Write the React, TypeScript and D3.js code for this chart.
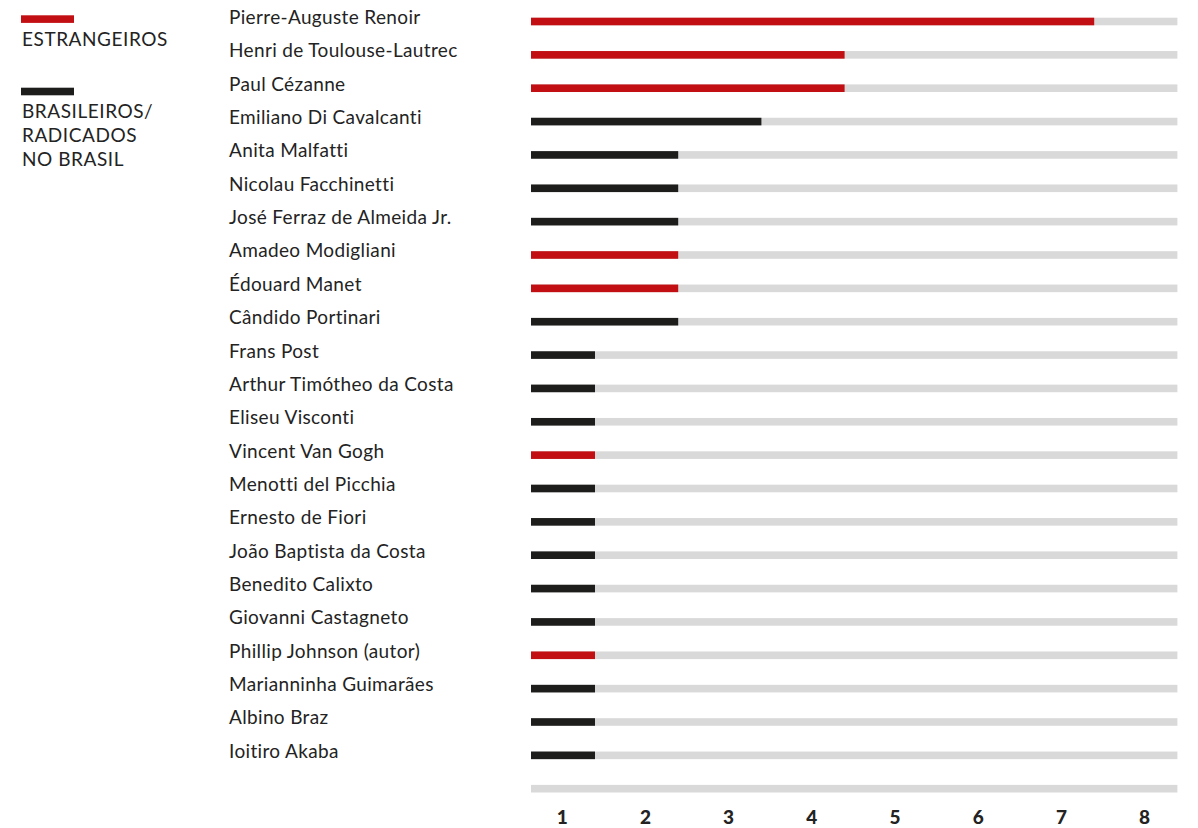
import React from "react";
import * as d3 from "d3";

// Artists and how many works of each appear in the collection
const artists: string[] = [
  "Pierre-Auguste Renoir",
  "Henri de Toulouse-Lautrec",
  "Paul Cézanne",
  "Emiliano Di Cavalcanti",
  "Anita Malfatti",
  "Nicolau Facchinetti",
  "José Ferraz de Almeida Jr.",
  "Amadeo Modigliani",
  "Édouard Manet",
  "Cândido Portinari",
  "Frans Post",
  "Arthur Timótheo da Costa",
  "Eliseu Visconti",
  "Vincent Van Gogh",
  "Menotti del Picchia",
  "Ernesto de Fiori",
  "João Baptista da Costa",
  "Benedito Calixto",
  "Giovanni Castagneto",
  "Phillip Johnson (autor)",
  "Marianninha Guimarães",
  "Albino Braz",
  "Ioitiro Akaba",
];

const counts: number[] = [7, 4, 4, 3, 2, 2, 2, 2, 2, 2, 1, 1, 1, 1, 1, 1, 1, 1, 1, 1, 1, 1, 1];

// "E" = estrangeiro, "B" = brasileiro / radicado no Brasil
const origin: string[] = [
  "E", "E", "E", "B", "B", "B", "B", "E", "E", "B",
  "B", "B", "B", "E", "B", "B", "B", "B", "B", "E",
  "B", "B", "B",
];

const tickValues: number[] = [1, 2, 3, 4, 5, 6, 7, 8];

const legendItems = [
  { key: "E", lines: ["ESTRANGEIROS"] },
  { key: "B", lines: ["BRASILEIROS/", "RADICADOS", "NO BRASIL"] },
];

const COLORS: Record<string, string> = { E: "#c20f13", B: "#1d1d1b" };
const TRACK = "#d9d9d9";
const TEXT = "#232323";
const FONT = "Lato, 'Noto Sans', sans-serif";

export default function App() {
  const width = 1198;
  const height = 828;

  const trackLeft = 531;
  const x = d3.scaleLinear().domain([0, 8]).range([511.8, 1177.4]);
  // one row per artist, plus an empty track row above the axis labels
  const y = d3.scaleLinear().domain([0, artists.length]).range([21.5, 788.7]);
  const barH = 7.6;
  const labelX = 229;
  const tickShift = -32.8;

  return (
    <div style={{ position: "absolute", left: 0, top: 0 }}>
      <svg width={width} height={height} style={{ display: "block", background: "#fff" }}>
        {/* legend */}
        <g>
          {legendItems.map((item, i) => {
            const top = i === 0 ? 15.3 : 87.7;
            return (
              <g key={item.key}>
                <rect x={21} y={top} width={53} height={barH} fill={COLORS[item.key]} />
                {item.lines.map((ln, j) => (
                  <text
                    key={ln}
                    x={22}
                    y={top + 30.7 + j * 24}
                    fontFamily={FONT}
                    fontSize={19}
                    letterSpacing={0.55}
                    fill={TEXT}
                  >
                    {ln}
                  </text>
                ))}
              </g>
            );
          })}
        </g>

        {/* rows */}
        <g>
          {artists.map((name, i) => {
            const cy = y(i);
            return (
              <g key={name}>
                <text
                  x={labelX}
                  y={cy + 2.5}
                  fontFamily={FONT}
                  fontSize={19}
                  letterSpacing={0.35}
                  fill={TEXT}
                >
                  {name}
                </text>
                <rect x={trackLeft} y={cy - barH / 2} width={x(8) - trackLeft} height={barH} fill={TRACK} />
                <rect
                  x={trackLeft}
                  y={cy - barH / 2}
                  width={x(counts[i]) - trackLeft}
                  height={barH}
                  fill={COLORS[origin[i]]}
                />
              </g>
            );
          })}
          {/* empty axis track */}
          <rect
            x={trackLeft}
            y={y(artists.length) - barH / 2}
            width={x(8) - trackLeft}
            height={barH}
            fill={TRACK}
          />
        </g>

        {/* axis labels */}
        <g>
          {tickValues.map((t) => (
            <text
              key={t}
              x={x(t) + tickShift}
              y={824}
              textAnchor="middle"
              fontFamily={FONT}
              fontWeight={900}
              fontSize={19}
              fill={TEXT}
            >
              {t}
            </text>
          ))}
        </g>
      </svg>
    </div>
  );
}
